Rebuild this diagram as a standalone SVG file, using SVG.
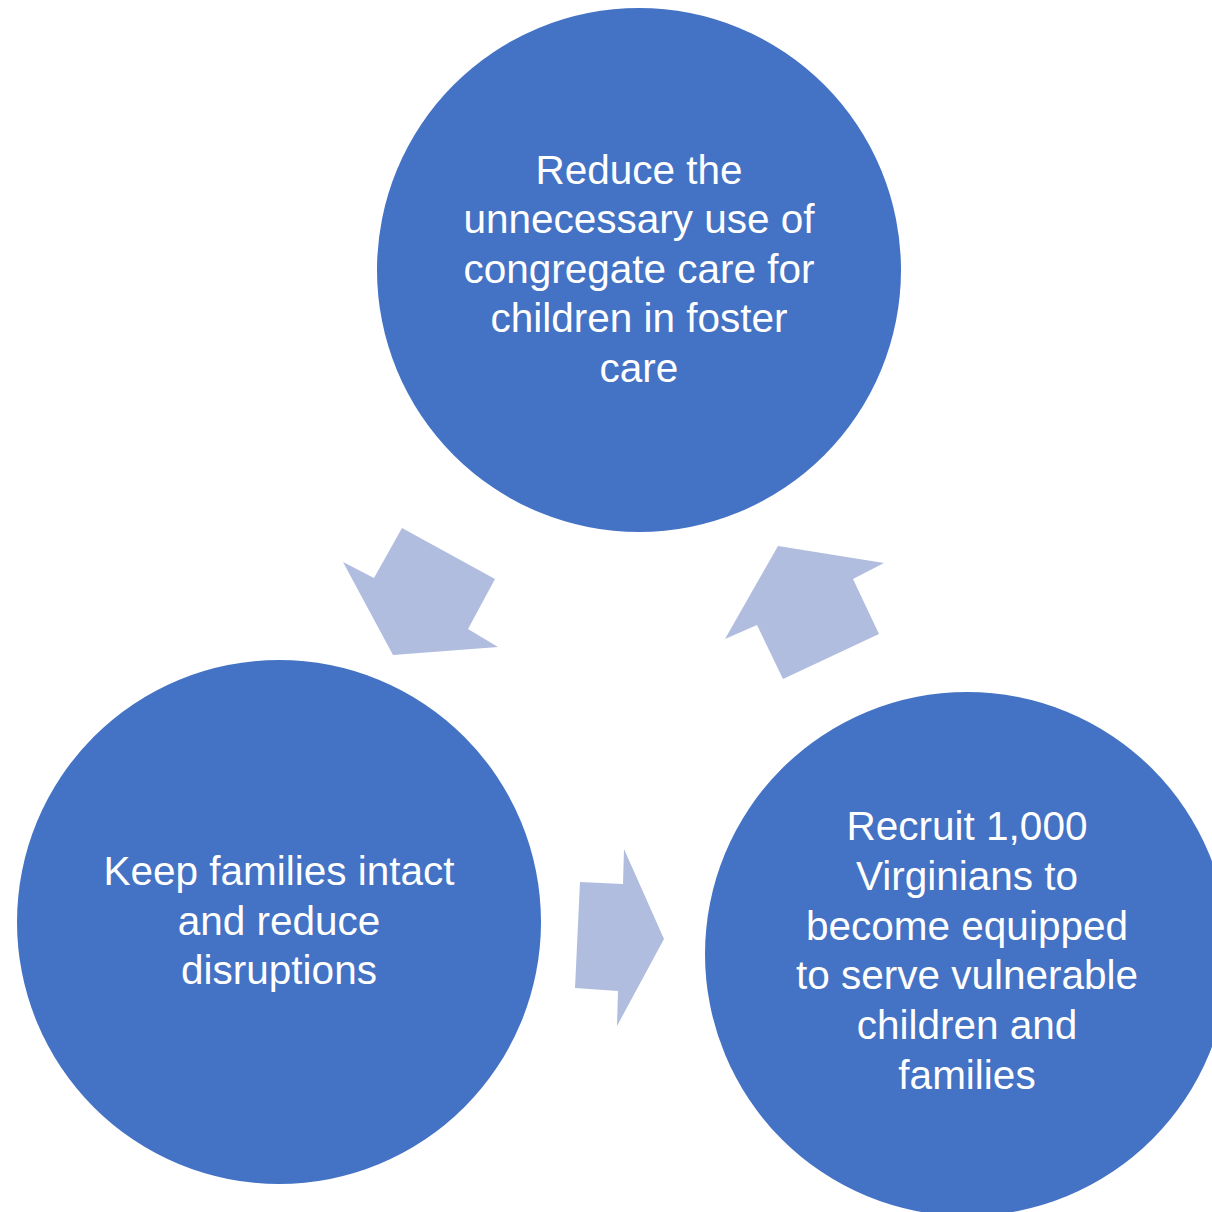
<svg xmlns="http://www.w3.org/2000/svg" width="1212" height="1212" viewBox="0 0 1212 1212">
<style>
.node{fill:#4472C4}
.arrow{fill:#B0BDDF}
.lbl{fill:#FFFFFF;font-family:"Liberation Sans",Arial,sans-serif;font-size:40.5px;text-anchor:middle}
</style>
<rect width="1212" height="1212" fill="#FFFFFF"/>
<g id="connectors">
<polygon class="arrow" points="402,528 495,579 468,629 498,647 393,655 343,562 374,578"/>
<polygon class="arrow" points="778,546 884,563 853,579 879,634 783,679 757,625 725,639"/>
<polygon class="arrow" points="624,849 664,939 617,1026 618,991 575,988 580,882 623,884"/>
</g>
<g id="node-top">
<circle class="node" cx="639" cy="270" r="262"/>
<text class="lbl"><tspan x="639" y="184">Reduce the</tspan><tspan x="639" y="233">unnecessary use of</tspan><tspan x="639" y="283">congregate care for</tspan><tspan x="639" y="332">children in foster</tspan><tspan x="639" y="382">care</tspan></text>
</g>
<g id="node-left">
<circle class="node" cx="279" cy="922" r="262"/>
<text class="lbl"><tspan x="279" y="885">Keep families intact</tspan><tspan x="279" y="935">and reduce</tspan><tspan x="279" y="984">disruptions</tspan></text>
</g>
<g id="node-right">
<circle class="node" cx="967" cy="954" r="262"/>
<text class="lbl"><tspan x="967" y="840">Recruit 1,000</tspan><tspan x="967" y="890">Virginians to</tspan><tspan x="967" y="940">become equipped</tspan><tspan x="967" y="989">to serve vulnerable</tspan><tspan x="967" y="1039">children and</tspan><tspan x="967" y="1089">families</tspan></text>
</g>
</svg>
